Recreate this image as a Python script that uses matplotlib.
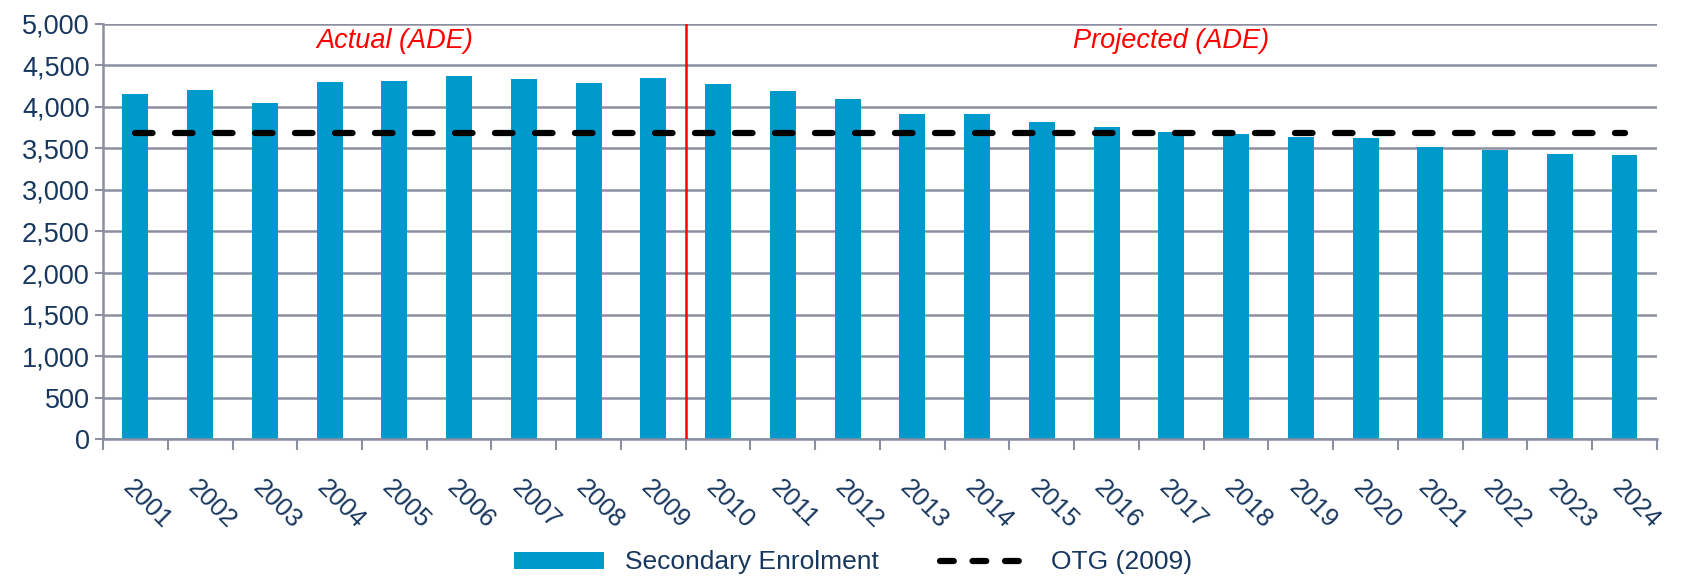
import matplotlib.pyplot as plt
from matplotlib.lines import Line2D
import numpy as np

plt.rcParams['font.family'] = ['Liberation Sans', 'DejaVu Sans']

years = [str(y) for y in range(2001, 2025)]
enrolment = [4156, 4208, 4040, 4304, 4308, 4376, 4332, 4292, 4344,
             4276, 4192, 4096, 3908, 3916, 3816, 3752, 3700, 3676,
             3636, 3620, 3516, 3480, 3436, 3424]
otg = [3690] * len(years)

navy = '#17375E'
grid_col = '#8C8FA0'

fig = plt.figure(figsize=(16.89, 5.78), dpi=100)
ax = fig.add_axes([0.061, 0.240, 0.920, 0.719])

x = np.arange(len(years))
bars = ax.bar(x, enrolment, width=0.4, color='#0099CC', label='Secondary Enrolment', zorder=2)
ax.plot(x, otg, color='black', linestyle=(0, (2.8, 3.6)), linewidth=4.5,
        dash_capstyle='round', label='OTG (2009)', zorder=3)
ax.axvline(8.5, color='red', linewidth=1.8, zorder=4)

ax.text(4, 4790, 'Actual (ADE)', color='red', fontstyle='italic', fontsize=19.5,
        ha='center', va='center')
ax.text(16, 4790, 'Projected (ADE)', color='red', fontstyle='italic', fontsize=19.5,
        ha='center', va='center')

ax.set_xlim(-0.5, len(years) - 0.5)
ax.set_ylim(0, 5000)
ax.set_yticks(np.arange(0, 5001, 500))
ax.set_yticklabels([f'{v:,}' for v in range(0, 5001, 500)])
ax.yaxis.grid(True, color=grid_col, linewidth=1.8, zorder=0)
ax.set_axisbelow(True)

ax.set_xticks(x)
ax.set_xticklabels(years, rotation=-45, ha='left', va='top', rotation_mode='anchor')
ax.set_xticks(np.arange(-0.5, len(years), 1), minor=True)
ax.tick_params(axis='x', which='major', length=0, pad=26, labelsize=18.5, labelcolor=navy)
ax.tick_params(axis='x', which='minor', length=8, width=1.5, color=grid_col, direction='out')
ax.tick_params(axis='y', length=6, width=1.5, color=grid_col, labelsize=19.5, labelcolor=navy)

for s in ['top', 'right']:
    ax.spines[s].set_visible(False)
for s in ['left', 'bottom']:
    ax.spines[s].set_color(grid_col)
    ax.spines[s].set_linewidth(1.8)

# legend proxy so the handle shows two long dashes like the original
otg_handle = Line2D([], [], color='black', linestyle=(0, (2.2, 3.0)), linewidth=4.5,
                    dash_capstyle='round')
leg = fig.legend([bars, otg_handle], ['Secondary Enrolment', 'OTG (2009)'],
                 loc='lower center', bbox_to_anchor=(0.505, -0.035), ncol=2, frameon=False,
                 fontsize=19, handlelength=3.4, handleheight=0.6, columnspacing=2.3)
for t in leg.get_texts():
    t.set_color(navy)

fig.savefig('out.png', dpi=100)
